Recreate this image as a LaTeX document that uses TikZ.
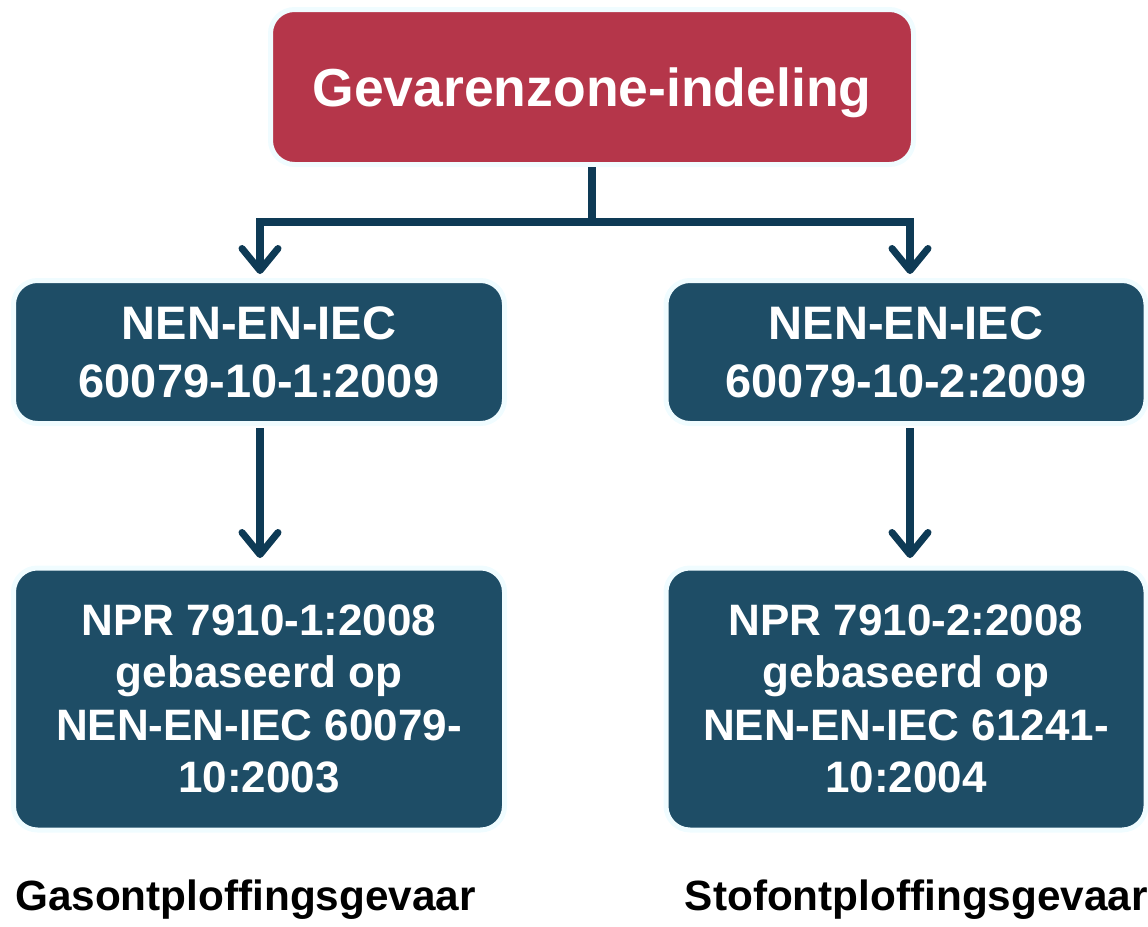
\documentclass[tikz,border=0pt]{standalone}
\usepackage{fontspec}
\setmainfont{Liberation Sans}
\usetikzlibrary{arrows.meta}
\definecolor{redbox}{HTML}{B5364A}
\definecolor{bluebox}{HTML}{1E4D66}
\definecolor{glow}{HTML}{F0FCFF}
\definecolor{conn}{HTML}{0E3A55}
\tikzset{
  box/.style={rounded corners=24pt, draw=glow, line width=5pt, inner sep=0pt, align=center, text=white, font=\bfseries},
  conline/.style={draw=conn, line width=7.5pt},
  conarrow/.style={conline, -{Straight Barb[length=22pt, width=36pt, line width=7pt, round]}},
  caption/.style={font=\bfseries\fontsize{42.3}{50}\selectfont, text=black, inner sep=0pt}
}
\begin{document}
\begin{tikzpicture}[x=1pt,y=-1pt]
\useasboundingbox (0,0) rectangle (1148,926);
\node[box, fill=redbox, minimum width=643pt, minimum height=155pt, text depth=0pt, font=\bfseries\fontsize{53.5}{60}\selectfont] (top) at (592,87) {Gevarenzone-indeling};
\node[box, fill=bluebox, minimum width=491pt, minimum height=143pt, font=\bfseries\fontsize{47}{58}\selectfont] (m1) at (259,352) {NEN-EN-IEC\\60079-10-1:2009};
\node[box, fill=bluebox, minimum width=480pt, minimum height=143pt, font=\bfseries\fontsize{47}{58}\selectfont] (m2) at (906,352) {NEN-EN-IEC\\60079-10-2:2009};
\node[box, fill=bluebox, minimum width=491pt, minimum height=262pt, font=\bfseries\fontsize{44}{52.5}\selectfont] (b1) at (259,699) {NPR 7910-1:2008\\gebaseerd op\\NEN-EN-IEC 60079-\\10:2003};
\node[box, fill=bluebox, minimum width=480pt, minimum height=262pt, font=\bfseries\fontsize{44}{52.5}\selectfont] (b2) at (906,699) {NPR 7910-2:2008\\gebaseerd op\\NEN-EN-IEC 61241-\\10:2004};
\coordinate (j) at (592,222);
\coordinate (jl) at (260,222);
\coordinate (jr) at (910,222);
\coordinate (al) at (260,274);
\coordinate (ar) at (910,274);
\draw[conline] (top.south) -- (j);
\draw[conline] ([xshift=-3.75pt]jl) -- ([xshift=3.75pt]jr);
\draw[conarrow] (jl) -- (al);
\draw[conarrow] (jr) -- (ar);
\coordinate (s1) at (260,428);
\coordinate (e1) at (260,558);
\coordinate (s2) at (910,428);
\coordinate (e2) at (910,558);
\draw[conarrow] (s1) -- (e1);
\draw[conarrow] (s2) -- (e2);
\node[caption, anchor=west] (c1) at (15,900) {Gasontploffingsgevaar};
\node[caption, anchor=east] (c2) at (1148,900) {Stofontploffingsgevaar};
\end{tikzpicture}
\end{document}
